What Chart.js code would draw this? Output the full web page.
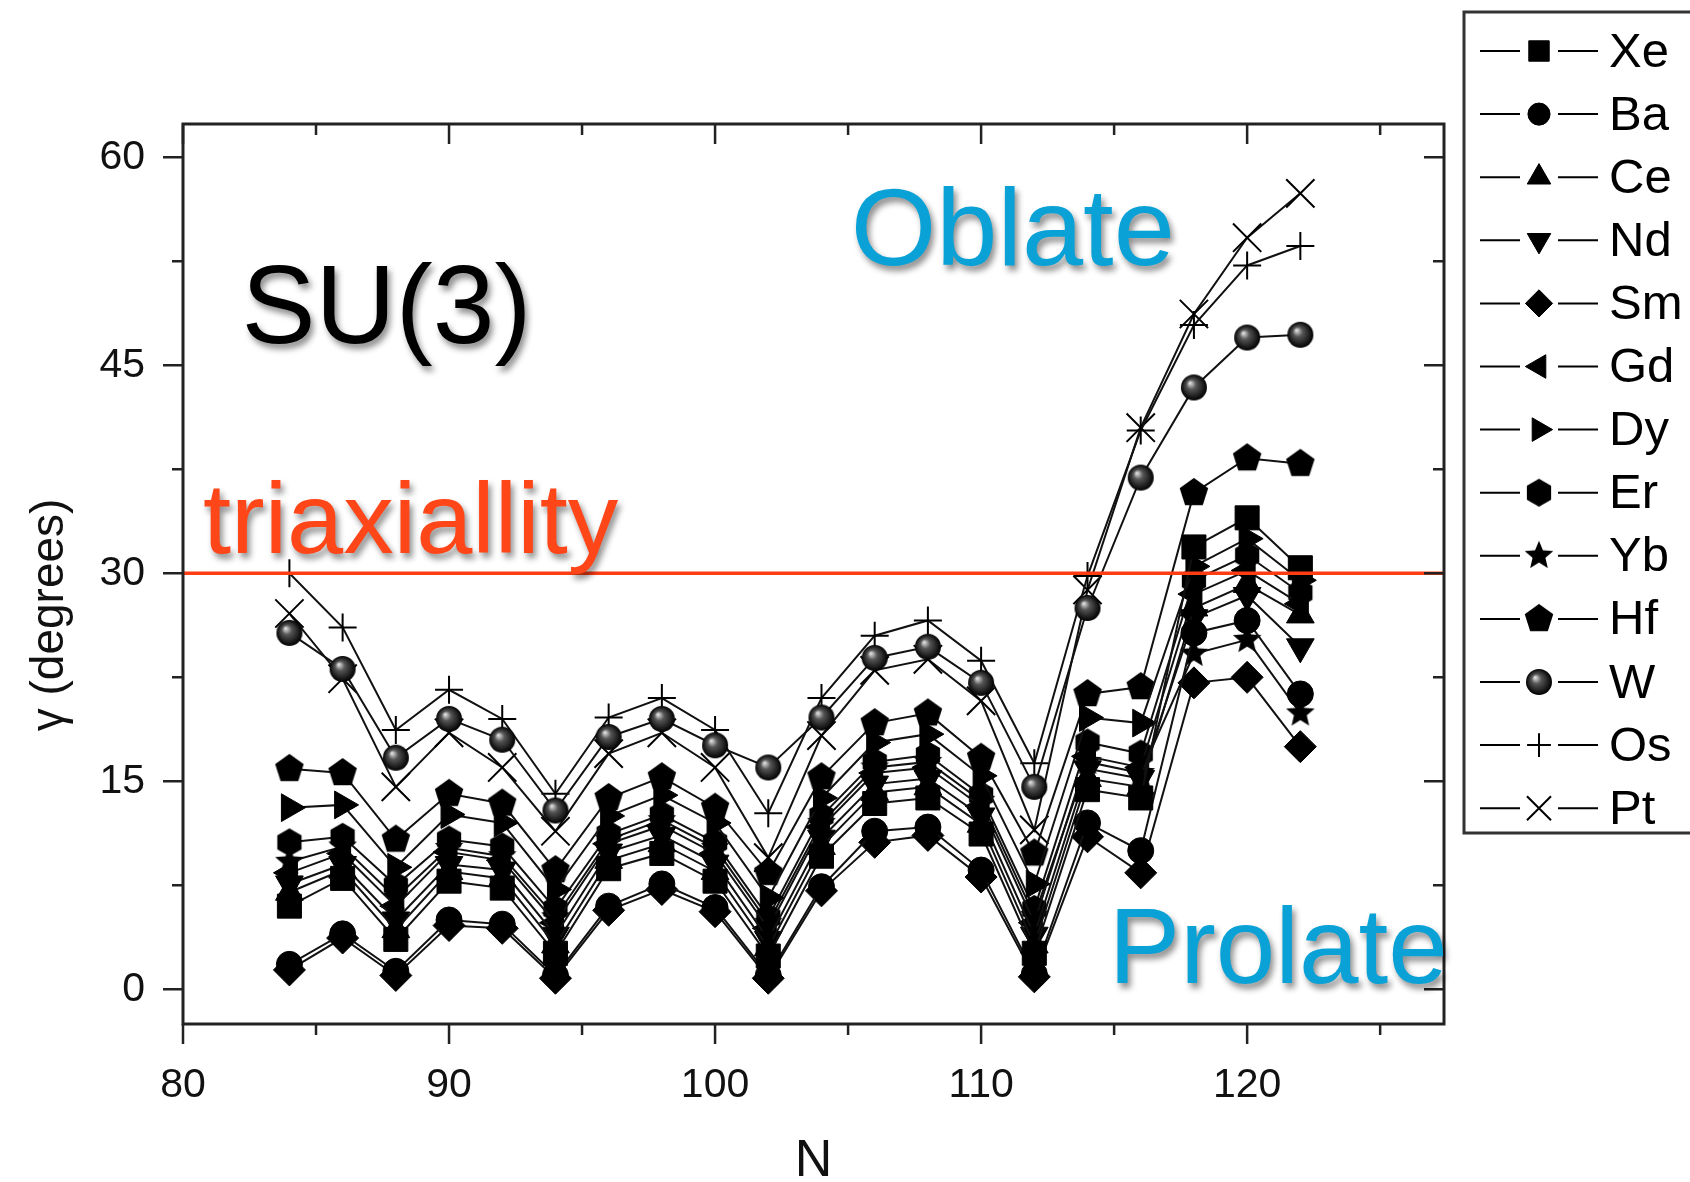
<!DOCTYPE html>
<html>
<head>
<meta charset="utf-8">
<script src="https://cdn.jsdelivr.net/npm/chart.js@4.4.1/dist/chart.umd.min.js"></script>
<style>
html, body { margin: 0; padding: 0; background: #fff; }
canvas { display: block; }
</style>
</head>
<body>
<canvas id="chart" width="1690" height="1182"></canvas>
<script>
// neutron number N
const neutrons = [84, 86, 88, 90, 92, 94, 96, 98, 100, 102, 104, 106, 108, 110, 112, 114, 116, 118, 120, 122]

// gamma (degrees) per isotope chain
const xe = [6.0, 8.0, 3.6, 7.8, 7.3, 2.6, 8.7, 9.8, 7.8, 2.4, 9.6, 13.4, 13.8, 11.2, 2.6, 14.4, 13.8, 31.9, 34.0, 30.4]
const ba = [1.8, 4.0, 1.3, 5.0, 4.7, 1.0, 6.0, 7.6, 5.9, 1.0, 7.4, 11.4, 11.7, 8.6, 1.1, 12.0, 10.0, 25.7, 26.6, 21.3]
const ce = [7.0, 8.6, 4.3, 8.5, 8.0, 3.2, 9.3, 10.5, 8.5, 3.0, 10.3, 14.2, 14.6, 11.9, 3.2, 15.2, 14.6, 27.5, 29.2, 27.0]
const nd = [7.6, 9.0, 5.0, 9.0, 8.6, 3.9, 9.9, 11.1, 9.1, 3.6, 10.9, 14.8, 15.2, 12.5, 3.9, 15.9, 15.2, 26.8, 28.4, 24.7]
const sm = [1.4, 3.7, 1.0, 4.6, 4.4, 0.8, 5.7, 7.2, 5.6, 0.8, 7.1, 10.6, 11.1, 8.1, 0.9, 11.0, 8.4, 22.1, 22.5, 17.5]
const gd = [8.4, 9.8, 6.0, 9.9, 9.3, 4.8, 10.5, 11.8, 9.8, 4.4, 11.7, 15.6, 16.0, 13.2, 4.8, 16.8, 16.0, 28.5, 30.2, 27.8]
const dy = [13.1, 13.3, 8.8, 12.6, 12.0, 7.2, 12.5, 14.0, 12.0, 6.6, 13.8, 17.8, 18.4, 15.4, 7.6, 19.6, 19.2, 30.5, 32.5, 29.5]
const er = [10.6, 11.0, 7.5, 10.8, 10.3, 5.8, 11.2, 12.6, 10.6, 5.2, 12.5, 16.4, 16.9, 14.0, 5.8, 17.8, 17.0, 29.5, 31.3, 28.6]
const yb = [9.2, 10.3, 6.6, 10.2, 9.6, 5.2, 10.8, 12.2, 10.2, 4.8, 12.0, 16.0, 16.4, 13.6, 5.3, 16.4, 15.6, 24.2, 25.2, 19.9]
const hf = [15.9, 15.6, 10.8, 14.1, 13.4, 8.6, 13.8, 15.3, 13.1, 8.4, 15.3, 19.2, 19.9, 16.7, 9.8, 21.3, 21.8, 35.8, 38.3, 37.9]
const w = [25.7, 23.1, 16.7, 19.5, 18.0, 12.9, 18.2, 19.5, 17.6, 16.0, 19.6, 23.9, 24.7, 22.1, 14.6, 27.5, 36.9, 43.4, 47.0, 47.2]
const os = [30.0, 26.1, 18.7, 21.6, 19.5, 14.1, 19.6, 21.0, 18.7, 12.7, 21.0, 25.5, 26.6, 23.7, 16.3, 29.8, 40.3, 47.9, 52.2, 53.6]
const pt = [27.1, 22.4, 14.6, 18.5, 16.0, 11.4, 17.0, 18.5, 16.0, 9.5, 18.3, 23.0, 23.8, 20.8, 11.5, 28.8, 40.5, 48.7, 54.2, 57.4]

const elements = ['Xe', 'Ba', 'Ce', 'Nd', 'Sm', 'Gd', 'Dy', 'Er', 'Yb', 'Hf', 'W', 'Os', 'Pt']
const series = [xe, ba, ce, nd, sm, gd, dy, er, yb, hf, w, os, pt]

const xTicks = [80, 90, 100, 110, 120]
const yTicks = [0, 15, 30, 45, 60]
const triaxial = 30

const FONT = "'Liberation Sans', Arial, Helvetica, sans-serif"

// little canvases for the symbols chart.js has no shape for
const makeMarker = (kind, r) => {
    const c = document.createElement('canvas')
    const s = 2 * r + 4
    c.width = s
    c.height = s
    const g = c.getContext('2d')
    const m = s / 2
    if (kind === 'sphere') {
        const grad = g.createRadialGradient(m - r * 0.3, m - r * 0.35, 0.5, m, m, r)
        grad.addColorStop(0, '#e0e0e0')
        grad.addColorStop(0.35, '#555')
        grad.addColorStop(1, '#000')
        g.fillStyle = grad
        g.beginPath()
        g.arc(m, m, r, 0, Math.PI * 2)
        g.fill()
        return c
    }
    const n = kind === 'star' ? 10 : kind === 'pentagon' ? 5 : 6
    g.fillStyle = '#000'
    g.beginPath()
    for (let i = 0; i < n; i++) {
        const rr = kind === 'star' && i % 2 ? r * 0.45 : r
        const ang = -Math.PI / 2 + i * 2 * Math.PI / n
        g.lineTo(m + rr * Math.cos(ang), m + rr * Math.sin(ang))
    }
    g.closePath()
    g.fill()
    return c
}

const symbols = {
    Xe: { style: 'rect', radius: 17 },
    Ba: { style: 'circle', radius: 13 },
    Ce: { style: 'triangle', radius: 16 },
    Nd: { style: 'triangle', radius: 16, rotation: 180 },
    Sm: { style: 'rectRot', radius: 16 },
    Gd: { style: 'triangle', radius: 16, rotation: 270 },
    Dy: { style: 'triangle', radius: 16, rotation: 90 },
    Er: { style: makeMarker('hexagon', 14), radius: 14 },
    Yb: { style: makeMarker('star', 15), radius: 15 },
    Hf: { style: makeMarker('pentagon', 15), radius: 15 },
    W: { style: makeMarker('sphere', 13), radius: 13 },
    Os: { style: 'cross', radius: 14, open: true },
    Pt: { style: 'crossRot', radius: 20, open: true },
}

const datasets = elements.map((el, i) => {
    const s = symbols[el]
    return {
        label: el,
        data: neutrons.map((n, j) => ({ x: n, y: series[i][j] })),
        showLine: true,
        borderColor: '#111',
        borderWidth: 2,
        tension: 0,
        pointStyle: s.style,
        pointRadius: s.radius,
        pointHoverRadius: s.radius,
        pointRotation: s.rotation || 0,
        pointBackgroundColor: '#000',
        pointBorderColor: '#000',
        pointBorderWidth: s.open ? 2 : 1,
    }
})

// frame, minor ticks, red triaxiality line, annotations
const frameAndNotes = {
    id: 'frameAndNotes',
    afterDatasetsDraw(chart) {
        const { ctx, chartArea: a, scales: { x, y } } = chart
        ctx.save()

        const yy = y.getPixelForValue(triaxial)
        ctx.strokeStyle = '#ff3d14'
        ctx.lineWidth = 3.5
        ctx.beginPath()
        ctx.moveTo(a.left, yy)
        ctx.lineTo(a.right, yy)
        ctx.stroke()

        ctx.strokeStyle = '#222'
        ctx.lineWidth = 3
        ctx.strokeRect(a.left, a.top, a.right - a.left, a.bottom - a.top)

        ctx.lineWidth = 2.5
        ctx.beginPath()
        for (let v = xTicks[0]; v <= x.max; v += 5) {
            const px = x.getPixelForValue(v)
            const len = v % 10 === 0 ? 20 : 11
            ctx.moveTo(px, a.bottom); ctx.lineTo(px, a.bottom + len)
            ctx.moveTo(px, a.top); ctx.lineTo(px, a.top + len)
        }
        for (let v = yTicks[0]; v <= y.max; v += 7.5) {
            const py = y.getPixelForValue(v)
            const len = v % 15 === 0 ? 20 : 11
            ctx.moveTo(a.left, py); ctx.lineTo(a.left - len, py)
            ctx.moveTo(a.right, py); ctx.lineTo(a.right - len, py)
        }
        ctx.stroke()

        // y axis title, sitting a bit below the middle of the frame
        ctx.save()
        ctx.translate(50, y.getPixelForValue(27))
        ctx.rotate(-Math.PI / 2)
        ctx.font = `46px ${FONT}`
        ctx.fillStyle = '#111'
        ctx.textAlign = 'center'
        ctx.textBaseline = 'middle'
        ctx.fillText('γ (degrees)', 0, 0)
        ctx.restore()

        const note = (text, nx, ny, size, color) => {
            ctx.font = `${size}px ${FONT}`
            ctx.fillStyle = color
            ctx.textAlign = 'left'
            ctx.textBaseline = 'alphabetic'
            ctx.shadowColor = 'rgba(0,0,0,0.45)'
            ctx.shadowOffsetX = 3
            ctx.shadowOffsetY = 5
            ctx.shadowBlur = 6
            ctx.fillText(text, x.getPixelForValue(nx), y.getPixelForValue(ny))
        }
        note('SU(3)', 82.2, 46.6, 111, '#000')
        note('Oblate', 105.1, 52.2, 110, '#0aa2d6')
        note('triaxiallity', 80.75, 31.5, 101, '#ff4619')
        note('Prolate', 114.8, 0.45, 107, '#0aa2d6')
        ctx.restore()
    }
}

// legend box on the right: line - symbol - line, then the label
const sideLegend = {
    id: 'sideLegend',
    afterDraw(chart) {
        const ctx = chart.ctx
        ctx.save()
        ctx.fillStyle = '#fff'
        ctx.fillRect(1464, 12, 240, 821)
        ctx.strokeStyle = '#333'
        ctx.lineWidth = 3
        ctx.strokeRect(1464, 12, 240, 821)
        chart.data.datasets.forEach((ds, i) => {
            const cy = 51 + i * 63.1
            ctx.strokeStyle = '#000'
            ctx.lineWidth = 2
            ctx.beginPath()
            ctx.moveTo(1480, cy); ctx.lineTo(1520, cy)
            ctx.moveTo(1558, cy); ctx.lineTo(1598, cy)
            ctx.stroke()
            ctx.fillStyle = '#000'
            ctx.lineWidth = ds.pointBorderWidth
            Chart.helpers.drawPoint(ctx, {
                pointStyle: ds.pointStyle,
                rotation: ds.pointRotation,
                radius: ds.pointRadius * 0.85,
                borderWidth: ds.pointBorderWidth
            }, 1539, cy)
            ctx.fillStyle = '#000'
            ctx.font = `49px ${FONT}`
            ctx.textBaseline = 'middle'
            ctx.textAlign = 'left'
            ctx.fillText(ds.label, 1609, cy + 2)
        })
        ctx.restore()
    }
}

const ctx = document.getElementById('chart').getContext('2d')
const chart = new Chart(ctx, {
    type: 'scatter',
    data: { datasets },
    plugins: [frameAndNotes, sideLegend],
    options: {
        responsive: false,
        animation: false,
        devicePixelRatio: 1,
        layout: { padding: { left: 0, top: 124, right: 246, bottom: 0 } },
        plugins: {
            legend: { display: false },
            tooltip: { enabled: false },
        },
        scales: {
            x: {
                type: 'linear',
                min: 80,
                max: 127.4,
                afterFit: (scale) => { scale.height = 158 },
                grid: { display: false },
                border: { display: false },
                ticks: {
                    stepSize: 10,
                    includeBounds: false,
                    padding: 29,
                    color: '#111',
                    font: { family: FONT, size: 41 },
                    maxRotation: 0,
                },
                title: {
                    display: true,
                    text: 'N',
                    color: '#111',
                    font: { family: FONT, size: 52, lineHeight: 0.8 },
                    padding: { top: 0, bottom: 0 },
                },
            },
            y: {
                type: 'linear',
                min: -2.5,
                max: 62.4,
                afterFit: (scale) => { scale.width = 183 },
                grid: { display: false },
                border: { display: false },
                ticks: {
                    stepSize: 15,
                    includeBounds: false,
                    padding: 30,
                    color: '#111',
                    font: { family: FONT, size: 41 },
                },
            },
        },
    },
})
</script>
</body>
</html>
